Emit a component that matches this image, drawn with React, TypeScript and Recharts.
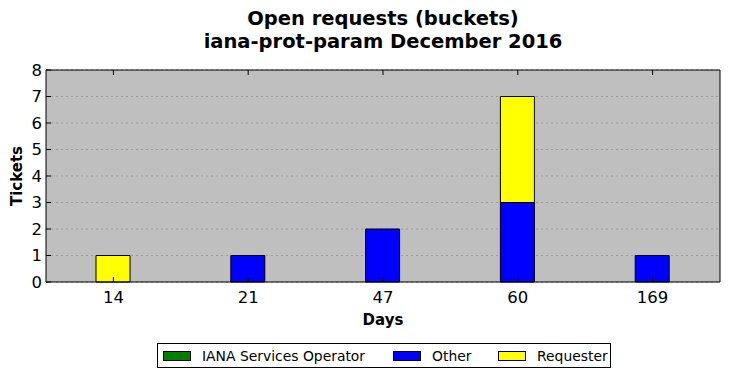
import { Bar, BarChart, CartesianGrid, XAxis, YAxis } from "recharts";

const days = ["14", "21", "47", "60", "169"];
const operator = [0, 0, 0, 0, 0];
const other = [0, 1, 2, 3, 1];
const requester = [1, 0, 0, 4, 0];
const yTicks = [0, 1, 2, 3, 4, 5, 6, 7, 8];

const series = [
  { key: "operator", name: "IANA Services Operator", color: "#008000", at: 5 },
  { key: "other", name: "Other", color: "#0000ff", at: 235 },
  { key: "requester", name: "Requester", color: "#ffff00", at: 340 },
];

const data = days.map((d, i) => ({
  day: d,
  operator: operator[i],
  other: other[i],
  requester: requester[i],
}));

const font = "'DejaVu Sans', sans-serif";
const TICK = 5;

function LeftTick(p: any) {
  return (
    <g>
      <text x={p.x - 4} y={p.y} textAnchor="end" dominantBaseline="central"
        fontSize={16.5} fontFamily={font} fill="#000">{p.payload.value}</text>
      <line x1={p.x} x2={p.x + TICK} y1={p.y} y2={p.y} stroke="#000" />
    </g>
  );
}

function RightTick(p: any) {
  return <line x1={p.x} x2={p.x - TICK} y1={p.y} y2={p.y} stroke="#000" />;
}

function BottomTick(p: any) {
  return (
    <g>
      <text x={p.x} y={p.y + 21} textAnchor="middle"
        fontSize={16.5} fontFamily={font} fill="#000">{p.payload.value}</text>
      <line x1={p.x} x2={p.x} y1={p.y} y2={p.y - TICK} stroke="#000" />
    </g>
  );
}

function TopTick(p: any) {
  return <line x1={p.x} x2={p.x} y1={p.y} y2={p.y + TICK} stroke="#000" />;
}

export default function App() {
  return (
    <div style={{ position: "fixed", left: 0, top: 0, width: 731, height: 378, background: "#fff", fontFamily: font }}>
      <div style={{ position: "absolute", left: 46, width: 674, top: 7, textAlign: "center", fontWeight: "bold", fontSize: 19.5, lineHeight: "23px" }}>
        <div>Open requests (buckets)</div>
        <div>iana-prot-param December 2016</div>
      </div>
      <BarChart width={731} height={378} data={data}
        margin={{ top: 69, right: 10, bottom: 95, left: 45 }}>
        <CartesianGrid xAxisId="b" yAxisId="l" vertical={false} fill="#bfbfbf" stroke="#9a9a9a" strokeDasharray="2 3" strokeWidth={1} />
        <XAxis dataKey="day" xAxisId="b" height={1} tickSize={0} tickMargin={0}
          tick={<BottomTick />} axisLine={{ stroke: "#000" }} tickLine={false} />
        <XAxis dataKey="day" xAxisId="t" orientation="top" height={1} tickSize={0} tickMargin={0}
          tick={<TopTick />} axisLine={{ stroke: "#000" }} tickLine={false} />
        <YAxis yAxisId="l" width={1} domain={[0, 8]} ticks={yTicks} interval={0} tickSize={0} tickMargin={0}
          tick={<LeftTick />} axisLine={{ stroke: "#000" }} tickLine={false} />
        <YAxis yAxisId="r" orientation="right" width={1} domain={[0, 8]} ticks={yTicks} interval={0} tickSize={0} tickMargin={0}
          tick={<RightTick />} axisLine={{ stroke: "#000" }} tickLine={false} />
        {series.map((s) => (
          <Bar key={s.key} dataKey={s.key} name={s.name} stackId="a" xAxisId="b" yAxisId="l"
            fill={s.color} stroke="#000" strokeWidth={1} barSize={34} isAnimationActive={false} />
        ))}
      </BarChart>
      <div style={{ position: "absolute", left: 0, top: 146, width: 34, height: 60 }}>
        <div style={{ position: "absolute", left: 17, top: 30, transform: "translate(-50%, -50%) rotate(-90deg)", fontWeight: "bold", fontSize: 15, whiteSpace: "nowrap" }}>Tickets</div>
      </div>
      <div style={{ position: "absolute", left: 46, width: 674, top: 311, textAlign: "center", fontWeight: "bold", fontSize: 15 }}>Days</div>
      <div style={{ position: "absolute", left: 157, top: 343, width: 452, height: 23, border: "1px solid #000", fontSize: 13.9 }}>
        {series.map((s) => (
          <div key={s.key} style={{ position: "absolute", left: s.at, top: 0, height: 23, display: "flex", alignItems: "center", whiteSpace: "nowrap" }}>
            <span style={{ display: "inline-block", width: 26, height: 8, background: s.color, border: "1px solid #000", marginRight: 11 }} />
            <span>{s.name}</span>
          </div>
        ))}
      </div>
    </div>
  );
}
